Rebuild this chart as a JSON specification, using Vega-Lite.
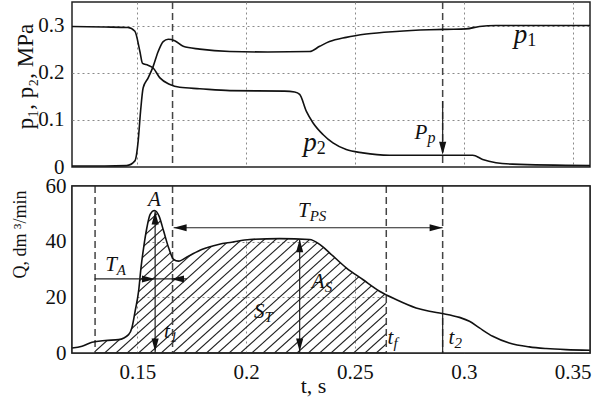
{
  "$schema": "https://vega.github.io/schema/vega-lite/v6.json",
  "autosize": {"type": "pad"},
  "padding": {"left": 10, "top": 0, "right": 0, "bottom": 0},
  "bounds": "flush",
  "spacing": 19,
  "config": {
    "font": "Liberation Serif, Times New Roman, DejaVu Serif, serif",
    "view": {"stroke": "#222", "strokeWidth": 1.5},
    "text": {"font": "Liberation Serif, Times New Roman, DejaVu Serif, serif"},
    "axis": {
      "grid": true, "gridColor": "#8a8a8a", "gridDash": [2, 3], "gridWidth": 1,
      "ticks": false, "domain": false,
      "labelFont": "Liberation Serif, Times New Roman, DejaVu Serif, serif", "labelFontSize": 21, "labelColor": "#111",
      "titleFont": "Liberation Serif, Times New Roman, DejaVu Serif, serif", "titleFontSize": 21, "titleFontWeight": "normal", "titleColor": "#111",
      "zindex": 1
    }
  },
  "datasets": {
    "pres": [
      {"t":0.12,"p":0.002,"s":"p1"},{"t":0.135,"p":0.002,"s":"p1"},{"t":0.1451,"p":0.003,"s":"p1"},{"t":0.1489,"p":0.013,"s":"p1"},{"t":0.1504,"p":0.055,"s":"p1"},{"t":0.1515,"p":0.118,"s":"p1"},{"t":0.1527,"p":0.168,"s":"p1"},{"t":0.155,"p":0.189,"s":"p1"},{"t":0.1573,"p":0.2135,"s":"p1"},{"t":0.1596,"p":0.245,"s":"p1"},{"t":0.1619,"p":0.266,"s":"p1"},{"t":0.1642,"p":0.271,"s":"p1"},{"t":0.1672,"p":0.268,"s":"p1"},{"t":0.1711,"p":0.256,"s":"p1"},{"t":0.1787,"p":0.25,"s":"p1"},{"t":0.1925,"p":0.245,"s":"p1"},{"t":0.21,"p":0.244,"s":"p1"},{"t":0.2292,"p":0.245,"s":"p1"},{"t":0.2338,"p":0.256,"s":"p1"},{"t":0.2383,"p":0.266,"s":"p1"},{"t":0.246,"p":0.275,"s":"p1"},{"t":0.2552,"p":0.282,"s":"p1"},{"t":0.2689,"p":0.2875,"s":"p1"},{"t":0.2842,"p":0.291,"s":"p1"},{"t":0.2919,"p":0.292,"s":"p1"},{"t":0.3011,"p":0.293,"s":"p1"},{"t":0.3072,"p":0.298,"s":"p1"},{"t":0.3148,"p":0.3,"s":"p1"},{"t":0.358,"p":0.3,"s":"p1"},
      {"t":0.12,"p":0.298,"s":"p2"},{"t":0.135,"p":0.297,"s":"p2"},{"t":0.1457,"p":0.296,"s":"p2"},{"t":0.1489,"p":0.288,"s":"p2"},{"t":0.1512,"p":0.245,"s":"p2"},{"t":0.1524,"p":0.22,"s":"p2"},{"t":0.1549,"p":0.216,"s":"p2"},{"t":0.1573,"p":0.21,"s":"p2"},{"t":0.1604,"p":0.189,"s":"p2"},{"t":0.165,"p":0.175,"s":"p2"},{"t":0.1695,"p":0.169,"s":"p2"},{"t":0.1787,"p":0.166,"s":"p2"},{"t":0.1925,"p":0.162,"s":"p2"},{"t":0.2177,"p":0.161,"s":"p2"},{"t":0.2223,"p":0.159,"s":"p2"},{"t":0.2246,"p":0.154,"s":"p2"},{"t":0.2277,"p":0.118,"s":"p2"},{"t":0.2307,"p":0.094,"s":"p2"},{"t":0.2353,"p":0.069,"s":"p2"},{"t":0.2399,"p":0.051,"s":"p2"},{"t":0.246,"p":0.037,"s":"p2"},{"t":0.2536,"p":0.03,"s":"p2"},{"t":0.2659,"p":0.025,"s":"p2"},{"t":0.2888,"p":0.025,"s":"p2"},{"t":0.3041,"p":0.025,"s":"p2"},{"t":0.3087,"p":0.016,"s":"p2"},{"t":0.3148,"p":0.009,"s":"p2"},{"t":0.3224,"p":0.006,"s":"p2"},{"t":0.358,"p":0.003,"s":"p2"}
    ],
    "flow": [
      {"t":0.12,"Q":1.8},{"t":0.1246,"Q":2.4},{"t":0.1292,"Q":3.85},{"t":0.1353,"Q":4.5},{"t":0.1414,"Q":4.8},{"t":0.146,"Q":6.6},{"t":0.1475,"Q":9},{"t":0.149,"Q":15},{"t":0.1506,"Q":22.2},{"t":0.1517,"Q":30.6},{"t":0.1529,"Q":37.8},{"t":0.1544,"Q":45},{"t":0.1559,"Q":49.8},{"t":0.1579,"Q":51.2},{"t":0.16,"Q":49.2},{"t":0.1621,"Q":43.8},{"t":0.1644,"Q":37.8},{"t":0.1667,"Q":33.6},{"t":0.1689,"Q":33},{"t":0.1735,"Q":34.8},{"t":0.1796,"Q":37.2},{"t":0.1873,"Q":39},{"t":0.1934,"Q":39.8},{"t":0.2017,"Q":40.8},{"t":0.2154,"Q":41.1},{"t":0.2292,"Q":40.8},{"t":0.2338,"Q":39},{"t":0.2383,"Q":36},{"t":0.246,"Q":30.6},{"t":0.2536,"Q":26.4},{"t":0.2613,"Q":22.2},{"t":0.2689,"Q":19.2},{"t":0.2781,"Q":16.2},{"t":0.2842,"Q":15},{"t":0.29,"Q":14.2},{"t":0.298,"Q":12.8},{"t":0.3026,"Q":11.4},{"t":0.3072,"Q":9},{"t":0.3133,"Q":6},{"t":0.3209,"Q":3.6},{"t":0.3301,"Q":2.2},{"t":0.3378,"Q":1.6},{"t":0.3469,"Q":1.2},{"t":0.358,"Q":1.0}
    ],
    "hatch": [
      {"hx":0.0570,"hx2":0.1420},{"hx":0.0622,"hx2":0.1472},{"hx":0.0674,"hx2":0.1524},{"hx":0.0726,"hx2":0.1576},{"hx":0.0778,"hx2":0.1628},{"hx":0.0830,"hx2":0.1680},{"hx":0.0882,"hx2":0.1732},{"hx":0.0934,"hx2":0.1784},{"hx":0.0986,"hx2":0.1836},{"hx":0.1038,"hx2":0.1888},{"hx":0.1090,"hx2":0.1940},{"hx":0.1142,"hx2":0.1992},{"hx":0.1194,"hx2":0.2044},{"hx":0.1246,"hx2":0.2096},{"hx":0.1298,"hx2":0.2148},{"hx":0.1350,"hx2":0.2200},{"hx":0.1402,"hx2":0.2252},{"hx":0.1454,"hx2":0.2304},{"hx":0.1506,"hx2":0.2356},{"hx":0.1558,"hx2":0.2408},{"hx":0.1610,"hx2":0.2460},{"hx":0.1662,"hx2":0.2512},{"hx":0.1714,"hx2":0.2564},{"hx":0.1766,"hx2":0.2616},{"hx":0.1818,"hx2":0.2668},{"hx":0.1870,"hx2":0.2720},{"hx":0.1922,"hx2":0.2772},{"hx":0.1974,"hx2":0.2824},{"hx":0.2026,"hx2":0.2876},{"hx":0.2078,"hx2":0.2928},{"hx":0.2130,"hx2":0.2980},{"hx":0.2182,"hx2":0.3032},{"hx":0.2234,"hx2":0.3084},{"hx":0.2286,"hx2":0.3136},{"hx":0.2338,"hx2":0.3188},{"hx":0.2390,"hx2":0.3240},{"hx":0.2442,"hx2":0.3292},{"hx":0.2494,"hx2":0.3344},{"hx":0.2546,"hx2":0.3396},{"hx":0.2598,"hx2":0.3448},{"hx":0.2650,"hx2":0.3500}
    ],
    "mask": [{"m1":0.12,"m2":0.1306},{"m1":0.2644,"m2":0.358}],
    "dashTop": [{"x":0.1662},{"x":0.2903}],
    "dashBot": [{"x":0.1306},{"x":0.1662},{"x":0.2644},{"x":0.2903}],
    "segTop": [{"x":0.2903,"x2":0.2903,"y":0.14,"y2":0.03}],
    "segBot": [
      {"x":0.1582,"x2":0.1582,"y":0,"y2":51},
      {"x":0.2246,"x2":0.2246,"y":0,"y2":41},
      {"x":0.2903,"x2":0.2903,"y":0,"y2":14.2},
      {"x":0.1667,"x2":0.2903,"y":45,"y2":45},
      {"x":0.1304,"x2":0.1728,"y":26.6,"y2":26.6}
    ],
    "headTop": [{"x":0.2903,"y":0.026,"dir":"down"}],
    "headBot": [
      {"x":0.1582,"y":50.8,"dir":"up"},{"x":0.1582,"y":0.5,"dir":"down"},
      {"x":0.2246,"y":40.9,"dir":"up"},{"x":0.2246,"y":0.5,"dir":"down"},
      {"x":0.1667,"y":45,"dir":"left"},{"x":0.2903,"y":45,"dir":"right"},
      {"x":0.1581,"y":26.6,"dir":"right"},{"x":0.1655,"y":26.6,"dir":"left"}
    ],
    "labTop": [
      {"lx":0.3292,"ly":0.262,"main":"p","sub":"1"},
      {"lx":0.2324,"ly":0.034,"main":"p","sub":"2"},
      {"lx":0.2833,"ly":0.059,"main":"P","sub":"p"}
    ],
    "labBot": [
      {"lx":0.1608,"ly":52.8,"main":"A","sub":""},
      {"lx":0.1406,"ly":29.4,"main":"T","sub":"A"},
      {"lx":0.165,"ly":5.3,"main":"t","sub":"1"},
      {"lx":0.2085,"ly":12.5,"main":"S","sub":"T"},
      {"lx":0.2361,"ly":23.3,"main":"A","sub":"S"},
      {"lx":0.2677,"ly":3.1,"main":"t","sub":"f"},
      {"lx":0.2957,"ly":3.1,"main":"t","sub":"2"},
      {"lx":0.2292,"ly":48.8,"main":"T","sub":"PS"}
    ]
  },
  "vconcat": [
    {
      "width": 518,
      "height": 165,
      "layer": [
        {
          "data": {"name": "dashTop"},
          "mark": {"type": "rule", "color": "#444", "strokeWidth": 1.5, "strokeDash": [7, 4]},
          "encoding": {"x": {"field": "x", "type": "quantitative", "scale": {"domain": [0.12, 0.358], "nice": false, "zero": false}}}
        },
        {
          "data": {"name": "pres"},
          "mark": {"type": "line", "color": "#111", "strokeWidth": 1.6, "interpolate": "monotone"},
          "encoding": {
            "x": {"field": "t", "type": "quantitative", "scale": {"domain": [0.12, 0.358], "nice": false, "zero": false},
                  "axis": {"values": [0.15, 0.2, 0.25, 0.3, 0.35], "labels": false, "title": null}},
            "y": {"field": "p", "type": "quantitative", "scale": {"domain": [0, 0.35], "nice": false, "zero": false},
                  "axis": {"values": [0, 0.1, 0.2, 0.3], "format": "~g", "labelPadding": 8, "title": "p₁, p₂, MPa",
                           "titleX": -47, "titleY": 74, "titleBaseline": "middle", "titleFontSize": 23,
                           "gridColor": {"condition": {"test": "datum.value == 0", "value": "transparent"}, "value": "#8a8a8a"}}},
            "detail": {"field": "s", "type": "nominal"}
          }
        },
        {
          "data": {"name": "segTop"},
          "mark": {"type": "rule", "color": "#222", "strokeWidth": 1.2},
          "encoding": {
            "x": {"field": "x", "type": "quantitative"}, "x2": {"field": "x2"},
            "y": {"field": "y", "type": "quantitative"}, "y2": {"field": "y2"}
          }
        },
        {
          "data": {"name": "headTop"},
          "mark": {"type": "point", "filled": true, "color": "#111", "size": 169, "opacity": 1, "strokeWidth": 0},
          "encoding": {
            "x": {"field": "x", "type": "quantitative"},
            "y": {"field": "y", "type": "quantitative"},
            "shape": {"field": "dir", "type": "nominal", "legend": null,
                      "scale": {"domain": ["up", "down", "left", "right"],
                                "range": ["M0,0L-0.55,2L0.55,2Z", "M0,0L-0.55,-2L0.55,-2Z", "M0,0L2,-0.55L2,0.55Z", "M0,0L-2,-0.55L-2,0.55Z"]}}
          }
        },
        {
          "data": {"name": "labTop"},
          "transform": [{"filter": "datum.main == 'p'"}],
          "mark": {"type": "text", "align": "right", "baseline": "alphabetic", "fontStyle": "italic", "fontSize": 27, "color": "#111"},
          "encoding": {"x": {"field": "lx", "type": "quantitative"}, "y": {"field": "ly", "type": "quantitative"}, "text": {"field": "main"}}
        },
        {
          "data": {"name": "labTop"},
          "transform": [{"filter": "datum.main == 'p'"}],
          "mark": {"type": "text", "align": "left", "baseline": "alphabetic", "fontSize": 18, "dy": 3, "color": "#111"},
          "encoding": {"x": {"field": "lx", "type": "quantitative"}, "y": {"field": "ly", "type": "quantitative"}, "text": {"field": "sub"}}
        },
        {
          "data": {"name": "labTop"},
          "transform": [{"filter": "datum.main != 'p'"}],
          "mark": {"type": "text", "align": "right", "baseline": "alphabetic", "fontStyle": "italic", "fontSize": 21, "color": "#111"},
          "encoding": {"x": {"field": "lx", "type": "quantitative"}, "y": {"field": "ly", "type": "quantitative"}, "text": {"field": "main"}}
        },
        {
          "data": {"name": "labTop"},
          "transform": [{"filter": "datum.main != 'p'"}],
          "mark": {"type": "text", "align": "left", "baseline": "alphabetic", "fontStyle": "italic", "fontSize": 16, "dy": 4, "color": "#111"},
          "encoding": {"x": {"field": "lx", "type": "quantitative"}, "y": {"field": "ly", "type": "quantitative"}, "text": {"field": "sub"}}
        }
      ]
    },
    {
      "width": 518,
      "height": 167,
      "layer": [
        {
          "data": {"name": "hatch"},
          "mark": {"type": "rule", "color": "#222", "strokeWidth": 1.1, "clip": true},
          "encoding": {
            "x": {"field": "hx", "type": "quantitative", "scale": {"domain": [0.12, 0.358], "nice": false, "zero": false}},
            "x2": {"field": "hx2"},
            "y": {"datum": 0, "type": "quantitative", "scale": {"domain": [0, 60], "nice": false}},
            "y2": {"datum": 60}
          }
        },
        {
          "data": {"name": "flow"},
          "mark": {"type": "area", "fill": "white", "interpolate": "monotone", "clip": true},
          "encoding": {
            "x": {"field": "t", "type": "quantitative"},
            "y": {"field": "Q", "type": "quantitative"},
            "y2": {"datum": 60}
          }
        },
        {
          "data": {"name": "mask"},
          "mark": {"type": "rect", "fill": "white"},
          "encoding": {
            "x": {"field": "m1", "type": "quantitative"}, "x2": {"field": "m2"},
            "y": {"datum": 0, "type": "quantitative"}, "y2": {"datum": 60}
          }
        },
        {
          "data": {"name": "dashBot"},
          "mark": {"type": "rule", "color": "#444", "strokeWidth": 1.5, "strokeDash": [7, 4]},
          "encoding": {"x": {"field": "x", "type": "quantitative"}}
        },
        {
          "data": {"name": "flow"},
          "mark": {"type": "line", "color": "#111", "strokeWidth": 1.6, "interpolate": "monotone"},
          "encoding": {
            "x": {"field": "t", "type": "quantitative", "scale": {"domain": [0.12, 0.358], "nice": false, "zero": false},
                  "axis": {"values": [0.15, 0.2, 0.25, 0.3, 0.35], "format": "~g", "labelPadding": 8, "title": "t, s", "titlePadding": -7, "titleX": 241, "titleFontSize": 22}},
            "y": {"field": "Q", "type": "quantitative", "scale": {"domain": [0, 60], "nice": false},
                  "axis": {"values": [0, 20, 40, 60], "format": "d", "labelPadding": 6, "title": "Q, dm ³/min",
                           "titleX": -52, "titleY": 48, "titleBaseline": "middle", "titleFontSize": 18,
                           "gridColor": {"condition": {"test": "datum.value == 0 || datum.value == 60", "value": "transparent"}, "value": "#8a8a8a"}}}
          }
        },
        {
          "data": {"name": "segBot"},
          "mark": {"type": "rule", "color": "#222", "strokeWidth": 1.2},
          "encoding": {
            "x": {"field": "x", "type": "quantitative"}, "x2": {"field": "x2"},
            "y": {"field": "y", "type": "quantitative"}, "y2": {"field": "y2"}
          }
        },
        {
          "data": {"name": "headBot"},
          "mark": {"type": "point", "filled": true, "color": "#111", "size": 169, "opacity": 1, "strokeWidth": 0},
          "encoding": {
            "x": {"field": "x", "type": "quantitative"},
            "y": {"field": "y", "type": "quantitative"},
            "shape": {"field": "dir", "type": "nominal", "legend": null,
                      "scale": {"domain": ["up", "down", "left", "right"],
                                "range": ["M0,0L-0.55,2L0.55,2Z", "M0,0L-0.55,-2L0.55,-2Z", "M0,0L2,-0.55L2,0.55Z", "M0,0L-2,-0.55L-2,0.55Z"]}}
          }
        },
        {
          "data": {"name": "labBot"},
          "mark": {"type": "text", "align": "right", "baseline": "alphabetic", "fontStyle": "italic", "fontSize": 21, "color": "#111"},
          "encoding": {"x": {"field": "lx", "type": "quantitative"}, "y": {"field": "ly", "type": "quantitative"}, "text": {"field": "main"}}
        },
        {
          "data": {"name": "labBot"},
          "mark": {"type": "text", "align": "left", "baseline": "alphabetic", "fontStyle": "italic", "fontSize": 15, "dy": 4, "color": "#111"},
          "encoding": {"x": {"field": "lx", "type": "quantitative"}, "y": {"field": "ly", "type": "quantitative"}, "text": {"field": "sub"}}
        },
        {
          "data": {"values": [{}]},
          "mark": {"type": "rect", "fillOpacity": 0, "stroke": "#222", "strokeWidth": 1.5},
          "encoding": {
            "x": {"datum": 0.12, "type": "quantitative"}, "x2": {"datum": 0.358},
            "y": {"datum": 0, "type": "quantitative"}, "y2": {"datum": 60}
          }
        }
      ]
    }
  ],
  "resolve": {"scale": {"x": "independent", "y": "independent", "shape": "independent"}}
}
